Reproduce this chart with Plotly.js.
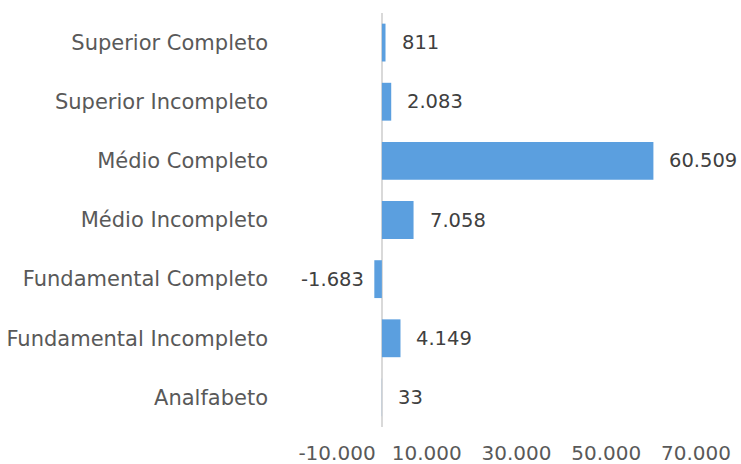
<!DOCTYPE html>
<html>
<head>
<meta charset="utf-8">
<script src="https://cdn.plot.ly/plotly-3.0.1.min.js"></script>
<style>html,body{margin:0;padding:0;background:#fff;}#chart{width:741px;height:464px;}</style>
</head>
<body>
<div id="chart"></div>
<script>
const categories = ["Analfabeto","Fundamental Incompleto","Fundamental Completo","Médio Incompleto","Médio Completo","Superior Incompleto","Superior Completo"];
const values = [33, 4149, -1683, 7058, 60509, 2083, 811];
const xTickVals = [-10000, 10000, 30000, 50000, 70000];
const xTickText = ["-10.000", "10.000", "30.000", "50.000", "70.000"];

function fmt(v){
  const s = Math.abs(v).toString().replace(/\B(?=(\d{3})+(?!\d))/g, ".");
  return (v < 0 ? "-" : "") + s;
}

const FONT = "'DejaVu Sans', sans-serif";

const trace = {
  type: "bar",
  orientation: "h",
  y: categories,
  x: values,
  marker: {color: "#5B9FDF"},
  hoverinfo: "none"
};

const annotations = values.map((v, i) => ({
  x: v, y: categories[i], xref: "x", yref: "y",
  text: fmt(v), showarrow: false,
  xanchor: v < 0 ? "right" : "left",
  xshift: v < 0 ? -8 : 14,
  font: {family: FONT, size: 19.5, color: "#404040"}
}));

const layout = {
  width: 741, height: 464,
  margin: {l: 337, r: 45, t: 13, b: 37},
  paper_bgcolor: "#fff", plot_bgcolor: "#fff",
  showlegend: false,
  bargap: 0.36,
  font: {family: FONT, size: 20, color: "#595959"},
  xaxis: {
    range: [-10000, 70000],
    tickvals: xTickVals, ticktext: xTickText,
    showgrid: false, showline: false,
    zeroline: true, zerolinecolor: "#D9D9D9", zerolinewidth: 2,
    ticks: "", ticklabelstandoff: 12, fixedrange: true,
    tickfont: {family: FONT, size: 20, color: "#595959"}
  },
  yaxis: {
    type: "category",
    categoryorder: "array", categoryarray: categories,
    showgrid: false, showline: false, zeroline: false,
    ticks: "", ticklabelstandoff: 68,
    automargin: false, fixedrange: true,
    tickfont: {family: FONT, size: 21, color: "#595959"}
  },
  annotations: annotations
};

Plotly.newPlot("chart", [trace], layout, {staticPlot: true, displayModeBar: false});
</script>
</body>
</html>
